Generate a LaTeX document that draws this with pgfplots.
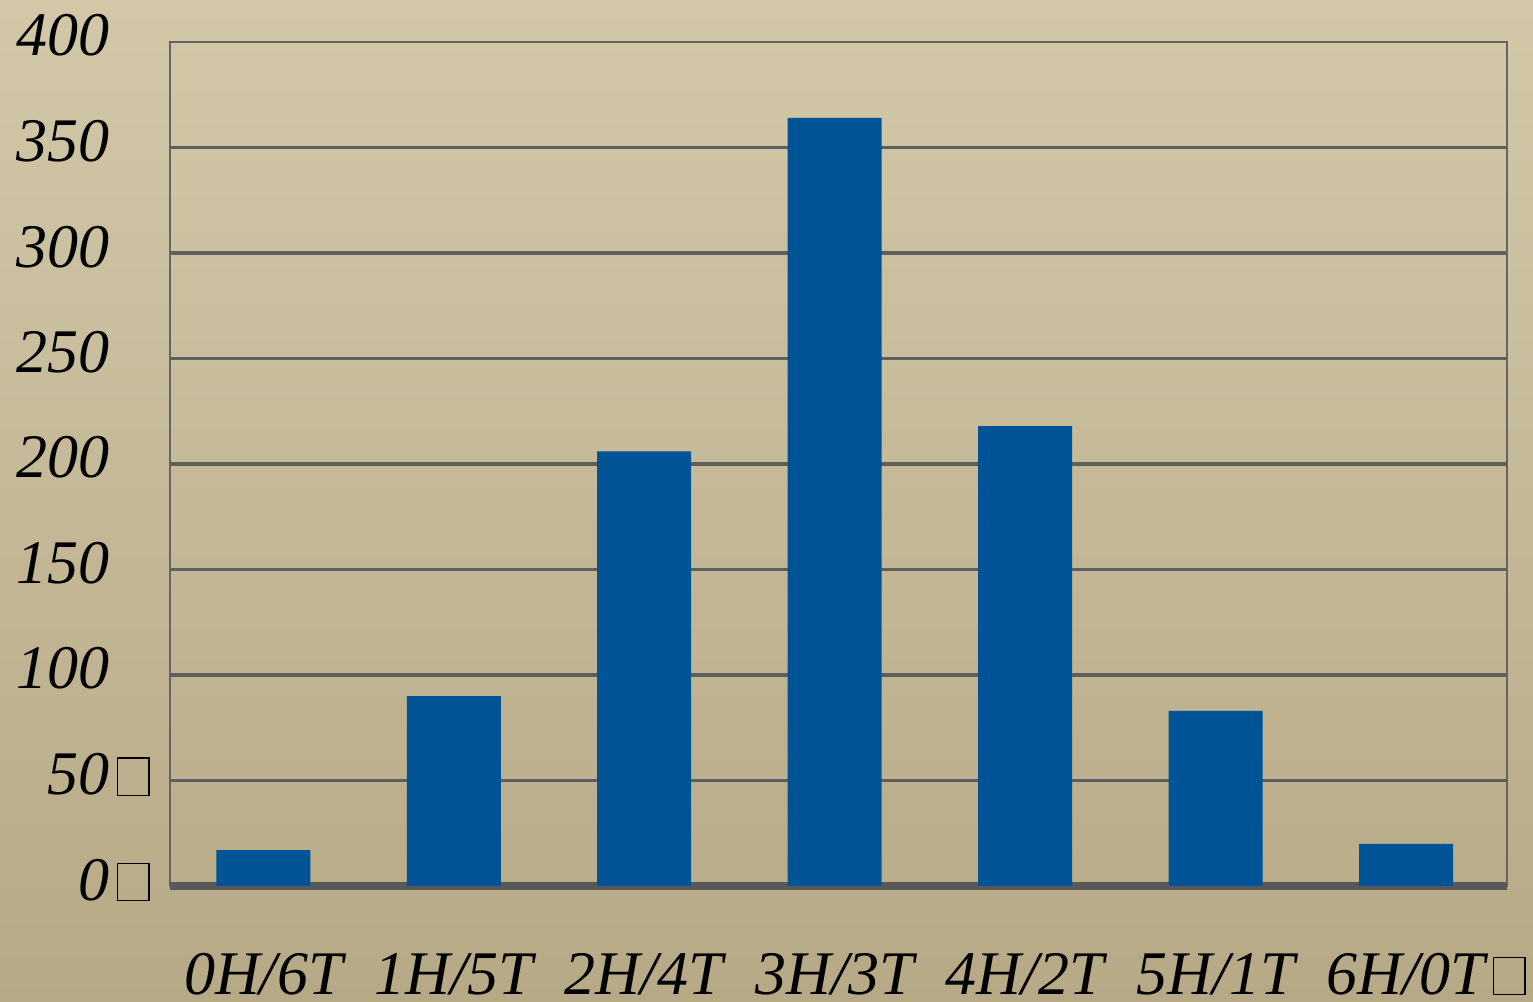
\documentclass[border=0pt]{standalone}
\usepackage{pgfplots}
\pgfplotsset{compat=1.18}
\usepackage{fontspec}
\setmainfont{Liberation Serif}
\definecolor{bgtop}{RGB}{210,200,168}
\definecolor{bgbot}{RGB}{182,169,134}
\definecolor{barblue}{RGB}{0,84,150}
\definecolor{gridgray}{RGB}{94,94,94}
\definecolor{framegray}{RGB}{100,100,100}
\definecolor{basegray}{RGB}{88,88,88}
\newcommand\tofu{\kern4pt{\setlength\fboxsep{0pt}\setlength\fboxrule{0.6pt}\color{black}\fbox{\rule{0pt}{18pt}\hspace{15pt}}}}
\begin{document}
\begin{tikzpicture}
\useasboundingbox (0,0) rectangle (766.5pt,501pt);
\shade[top color=bgtop, bottom color=bgbot] (0,0) rectangle (766.5pt,501pt);
\begin{axis}[
  at={(85pt,58pt)}, anchor=south west,
  scale only axis, width=668.5pt, height=422pt,
  xmin=-0.49, xmax=6.53, ymin=0, ymax=400,
  ybar, bar width=47pt,
  xtick={0,1,2,3,4,5,6},
  xticklabels={0H/6T,1H/5T,2H/4T,3H/3T,4H/2T,5H/1T,6H/0T\rlap{\tofu}},
  ytick={0,50,100,150,200,250,300,350,400},
  yticklabels={0\tofu,50\tofu,100\phantom{\tofu},150\phantom{\tofu},200\phantom{\tofu},250\phantom{\tofu},300\phantom{\tofu},350\phantom{\tofu},400\phantom{\tofu}},
  minor ytick={50,100,150,200,250,300,350},
  yminorgrids,
  minor grid style={line width=1.65pt, color=gridgray},
  extra y ticks={0}, extra y tick labels={},
  extra y tick style={grid=major, major grid style={line width=3.75pt, color=basegray}},
  major tick length=0pt, minor tick length=0pt,
  axis line style={line width=0.9pt, color=framegray},
  tick label style={font=\fontsize{31}{36}\selectfont\itshape, text=black, inner sep=0pt},
  xticklabel style={anchor=base, yshift=-54pt},
  yticklabel style={anchor=base east, xshift=-10pt, yshift=-7pt},
]
\addplot[fill=barblue, draw=none] coordinates {(0,17) (1,90) (2,206) (3,364) (4,218) (5,83) (6,20)};
\end{axis}
\end{tikzpicture}
\end{document}
